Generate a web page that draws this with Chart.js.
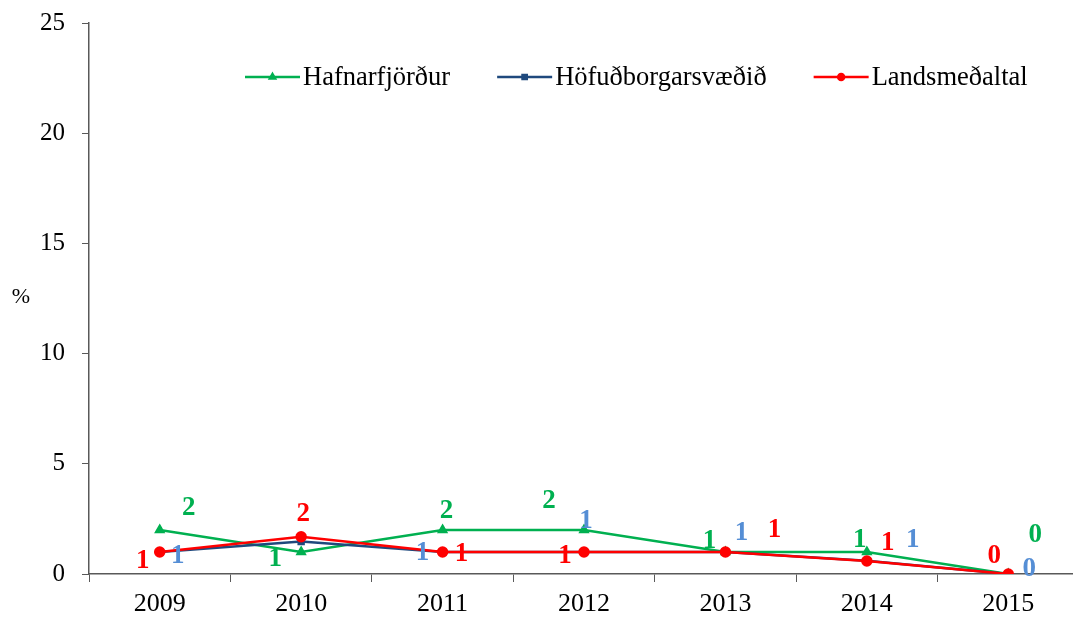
<!DOCTYPE html>
<html>
<head>
<meta charset="utf-8">
<script src="https://cdn.jsdelivr.net/npm/chart.js@4/dist/chart.umd.min.js"></script>
<style>
    html, body { margin: 0; padding: 0; overflow: hidden; background: #fff; }
    #wrap { width: 1100px; height: 618px; }
    #myChart { display: block; }
</style>
</head>
<body>
<div id="wrap"><canvas id="myChart" width="1086" height="618"></canvas></div>
<script>
// values (%)
const years = ["2009", "2010", "2011", "2012", "2013", "2014", "2015"]
const series_names = ["Hafnarfjörður", "Höfuðborgarsvæðið", "Landsmeðaltal"]
const hafnarfjordur = [2.0, 1.0, 2.0, 2.0, 1.0, 1.0, 0.0]
const hofudborgarsvaedid = [1.0, 1.47, 1.0, 1.0, 1.0, 0.6, 0.0]
const landsmedaltal = [1.0, 1.69, 1.0, 1.0, 1.0, 0.59, 0.0]
const y_min = 0
const y_max = 25
const y_step = 5

const serif = "'Liberation Serif', 'Times New Roman', serif"

// where each value label sits relative to its point (px), null = not shown
const label_offsets = [
    [[29, -23], [-26, 6], [4, -20], [-35, -30], [-16, -12], [-7, -13], [27, -40]],
    [[18, 3], null, [-20, 0], [2, -32], [16, -20], [46, -22], [21, -6]],
    [[-17, 8], [2, -24], [19, 1], [-19, 3], [49, -23], [21, -19], [-14, -19]]
]

const value_labels = {
    id: "value_labels",
    afterDatasetsDraw(chart) {
        const ctx = chart.ctx
        ctx.save()
        ctx.font = "bold 27px " + serif
        ctx.textAlign = "center"
        ctx.textBaseline = "middle"
        chart.data.datasets.forEach((ds, i) => {
            const meta = chart.getDatasetMeta(i)
            ctx.fillStyle = ds.label_color
            meta.data.forEach((pt, j) => {
                const off = label_offsets[i][j]
                if (!off) return
                ctx.fillText(String(Math.round(ds.data[j])), pt.x + off[0], pt.y + off[1] + 1)
            })
        })
        ctx.restore()
    }
}

// legend with line + marker drawn inside the plot, and the flat "%" title
const line_legend = {
    id: "line_legend",
    afterDraw(chart) {
        const ctx = chart.ctx
        ctx.save()
        ctx.font = "26.5px " + serif
        ctx.textBaseline = "middle"
        ctx.textAlign = "left"
        let x = 245
        const y = 77
        chart.data.datasets.forEach(ds => {
            ctx.strokeStyle = ds.borderColor
            ctx.fillStyle = ds.borderColor
            ctx.lineWidth = 2.5
            ctx.beginPath()
            ctx.moveTo(x, y)
            ctx.lineTo(x + 55, y)
            ctx.stroke()
            Chart.helpers.drawPoint(ctx, {pointStyle: ds.pointStyle, radius: 3, rotation: 0, borderWidth: 1}, x + 27.5, y)
            ctx.fillStyle = "#000"
            ctx.fillText(ds.label, x + 58, y + 1)
            x += 58 + ctx.measureText(ds.label).width + 47
        })
        ctx.font = "22px " + serif
        ctx.textAlign = "center"
        ctx.fillText("%", 21, 297)
        ctx.restore()
    }
}

const ctx = document.getElementById("myChart").getContext("2d")
const myChart = new Chart(ctx, {
    type: "line",
    data: {
        labels: years,
        datasets: [
            {
                label: series_names[0], data: hafnarfjordur,
                borderColor: "#00B050", backgroundColor: "#00B050", label_color: "#00B050",
                pointStyle: "triangle", pointRadius: 4, borderWidth: 2.5, order: 2
            },
            {
                label: series_names[1], data: hofudborgarsvaedid,
                borderColor: "#1F497D", backgroundColor: "#1F497D", label_color: "#558ED5",
                pointStyle: "rect", pointRadius: 3.5, borderWidth: 2.5, order: 1
            },
            {
                label: series_names[2], data: landsmedaltal,
                borderColor: "#FF0000", backgroundColor: "#FF0000", label_color: "#FF0000",
                pointStyle: "circle", pointRadius: 4.5, borderWidth: 2.5, order: 0
            }
        ]
    },
    options: {
        responsive: false,
        devicePixelRatio: 1,
        animation: false,
        layout: { padding: { top: 23, left: 0, right: 0, bottom: 0 } },
        plugins: {
            legend: { display: false },
            tooltip: { enabled: false }
        },
        scales: {
            x: {
                offset: true,
                grid: { offset: true, drawOnChartArea: false, tickLength: 8, color: "#595959", lineWidth: 1 },
                border: { color: "#595959", width: 1.5 },
                ticks: { color: "#000", font: { family: serif, size: 26 }, padding: 7, maxRotation: 0 },
                afterFit(scale) {
                    scale.height = 44
                    scale.paddingLeft = 0
                    scale.paddingRight = 0
                }
            },
            y: {
                min: y_min,
                max: y_max,
                ticks: { stepSize: y_step, color: "#000", font: { family: serif, size: 25 }, padding: 17 },
                grid: { drawOnChartArea: false, tickLength: 7, color: "#595959", lineWidth: 1 },
                border: { color: "#595959", width: 1.5 },
                afterFit(scale) {
                    scale.width = 89
                    scale.paddingTop = 0
                    scale.paddingBottom = 0
                }
            }
        }
    },
    plugins: [value_labels, line_legend]
})
</script>
</body>
</html>
